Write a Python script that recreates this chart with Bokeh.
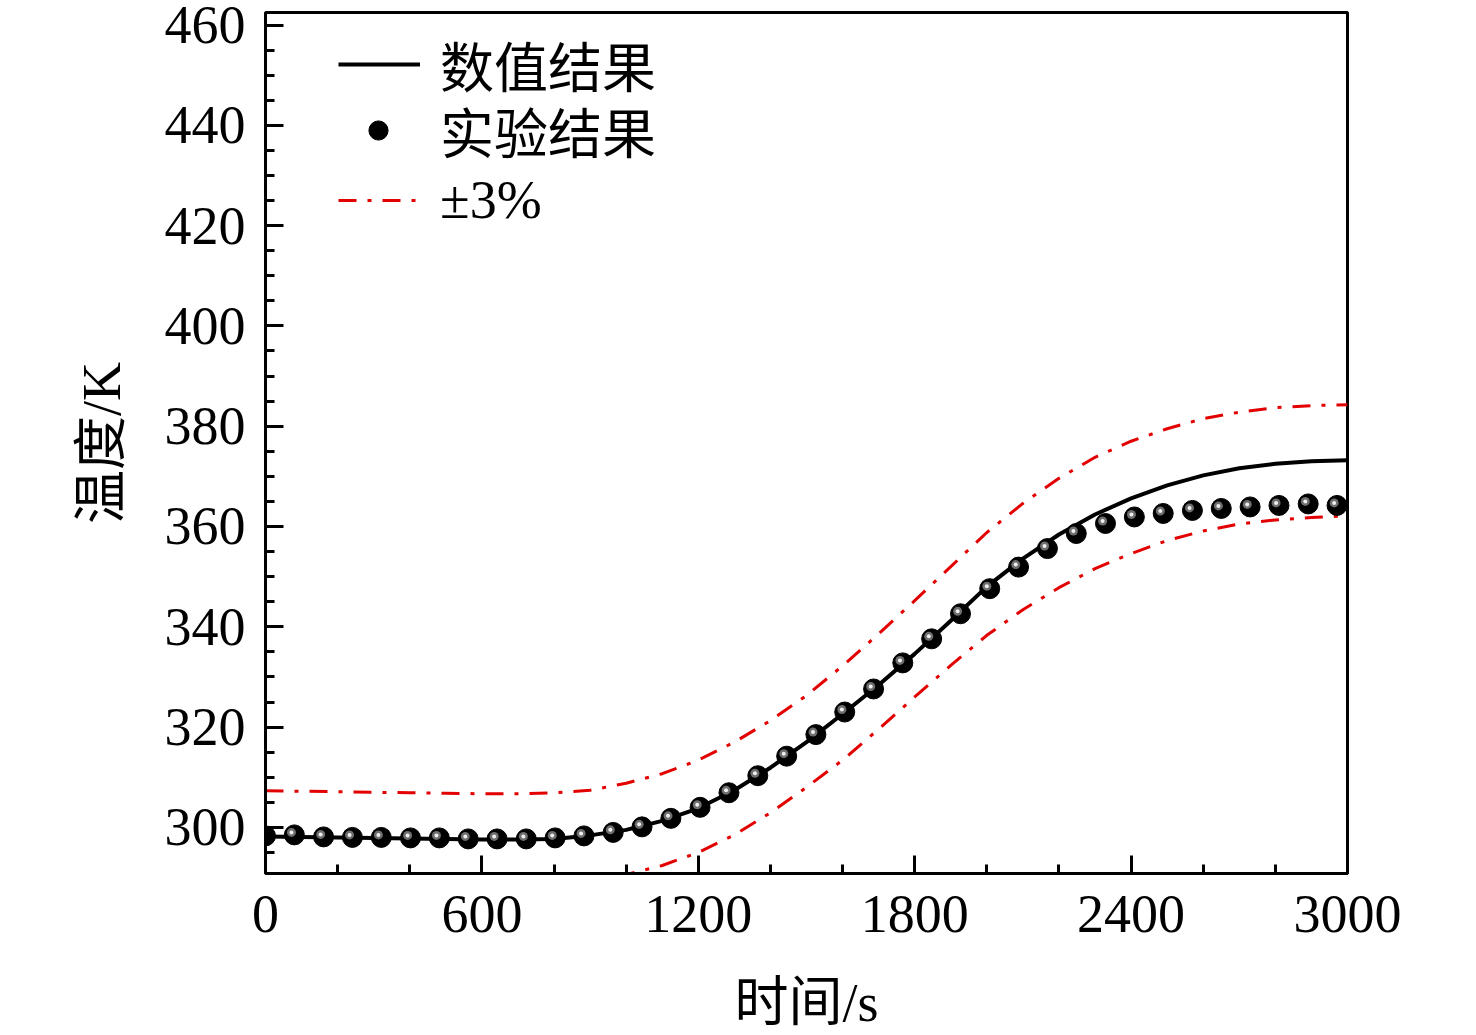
from bokeh.plotting import figure
from bokeh.models import Range1d, FixedTicker, Legend, LegendItem, ColumnDataSource
from bokeh.transform import dodge
from bokeh.embed import file_html
from bokeh.resources import INLINE

# ---------------- data ----------------
t_num = [0, 100, 200, 300, 400, 500, 600, 700, 800, 900, 1000,
         1100, 1200, 1300, 1400, 1500, 1600, 1700, 1800, 1900, 2000,
         2100, 2200, 2300, 2400, 2500, 2600, 2700, 2800, 2900, 3000]
T_num = [298.2, 298.1, 298.0, 297.9, 297.8, 297.7, 297.6, 297.6, 297.7, 298.4, 299.5,
         301.3, 303.8, 307.4, 311.9, 317.0, 322.6, 328.4, 334.6, 341.2, 348.0,
         353.6, 358.4, 362.4, 365.6, 368.2, 370.2, 371.6, 372.5, 373.0, 373.2]
T_upper = [307.3, 307.2, 307.1, 307.0, 306.9, 306.8, 306.7, 306.7, 306.9, 307.4, 308.8,
           310.7, 313.4, 317.0, 321.3, 326.3, 332.2, 338.6, 345.2, 352.0, 358.8,
           364.6, 369.6, 373.8, 377.0, 379.5, 381.5, 382.8, 383.7, 384.1, 384.3]
T_lower = [289.3, 289.2, 289.1, 289.0, 288.9, 288.8, 288.7, 288.7, 288.8, 289.4, 290.6,
           292.4, 295.0, 298.5, 302.9, 308.0, 313.4, 319.6, 326.0, 332.3, 338.3,
           343.4, 347.8, 351.6, 354.6, 357.2, 359.1, 360.5, 361.3, 361.8, 362.1]

t_exp = [0, 80, 161, 241, 321, 402, 482, 562, 642, 723, 803, 883, 964, 1044,
         1124, 1205, 1285, 1365, 1445, 1526, 1606, 1686, 1767, 1847, 1927,
         2008, 2088, 2168, 2248, 2329, 2409, 2489, 2570, 2650, 2730, 2810, 2891, 2971]
T_exp = [298.3, 298.5, 298.1, 298.0, 298.0, 297.9, 297.9, 297.7, 297.7, 297.7,
         297.9, 298.3, 299.0, 300.1, 301.8, 304.0, 306.9, 310.3, 314.2, 318.5,
         323.0, 327.6, 332.8, 337.6, 342.6, 347.6, 351.9, 355.6, 358.6, 360.6,
         361.9, 362.6, 363.2, 363.6, 363.9, 364.2, 364.5, 364.2]

x_ticks = [0, 600, 1200, 1800, 2400, 3000]
x_minor = [200, 400, 800, 1000, 1400, 1600, 2000, 2200, 2600, 2800]
y_ticks = [300, 320, 340, 360, 380, 400, 420, 440, 460]
y_minor = [295, 305, 310, 315, 325, 330, 335, 345, 350, 355, 365, 370, 375,
           385, 390, 395, 405, 410, 415, 425, 430, 435, 445, 450, 455]

labels = ["数值结果", "实验结果", "±3%"]
x_label = "时间/s"
y_label = "温度/K"

# ---------------- figure ----------------
FONT = "Liberation Serif, Noto Sans CJK SC"

p = figure(width=1460, height=1035, output_backend="svg", toolbar_location=None,
           title=None,
           x_range=Range1d(0, 3000), y_range=Range1d(290.8, 462.5),
           min_border_left=265, min_border_right=113,
           min_border_top=12, min_border_bottom=162)
p.xgrid.visible = False
p.ygrid.visible = False
p.outline_line_color = "black"
p.outline_line_width = 3
p.outline_line_alpha = 1.0
p.background_fill_color = "white"
p.border_fill_color = "white"

num_src = ColumnDataSource(dict(t=t_num, T=T_num, up=T_upper, lo=T_lower))
exp_src = ColumnDataSource(dict(t=t_exp, T=T_exp))

RED = "#e30000"
DASH = "18 11 4 11"
r_up = p.line("t", "up", source=num_src, line_color=RED, line_width=3, line_dash=DASH)
r_lo = p.line("t", "lo", source=num_src, line_color=RED, line_width=3, line_dash=DASH)
r_num = p.line("t", "T", source=num_src, line_color="black", line_width=4)

r_ball = p.scatter("t", "T", source=exp_src, marker="circle", size=20,
                   fill_color="black", line_color="black", line_width=1)
r_halo = p.scatter(dodge("t", -8), dodge("T", 0.5), source=exp_src,
                   marker="circle", size=9, fill_color="#7a7a7a",
                   line_color=None, fill_alpha=0.9)
r_hl = p.scatter(dodge("t", -8), dodge("T", 0.5), source=exp_src,
                 marker="circle", size=4, fill_color="#eeeeee", line_color=None)

# axes
for ax in (p.xaxis[0], p.yaxis[0]):
    ax.axis_line_width = 3
    ax.axis_line_color = "black"
    ax.major_tick_line_width = 3
    ax.minor_tick_line_width = 3
    ax.major_tick_in = 18
    ax.major_tick_out = 0
    ax.minor_tick_in = 9
    ax.minor_tick_out = 0
    ax.major_label_text_font = FONT
    ax.major_label_text_font_size = "54px"
    ax.major_label_text_color = "black"
    ax.axis_label_text_font = FONT
    ax.axis_label_text_font_size = "54px"
    ax.axis_label_text_font_style = "normal"
    ax.axis_label_text_color = "black"

p.xaxis[0].ticker = FixedTicker(ticks=x_ticks, minor_ticks=x_minor)
p.yaxis[0].ticker = FixedTicker(ticks=y_ticks, minor_ticks=y_minor)
p.xaxis[0].axis_label = x_label
p.yaxis[0].axis_label = y_label
p.xaxis[0].major_label_standoff = 22
p.yaxis[0].major_label_standoff = 20
p.xaxis[0].axis_label_standoff = 38
p.yaxis[0].axis_label_standoff = 30


def make_legend(item, loc, glyph_w, standoff):
    lg = Legend(items=[item], location=loc)
    lg.border_line_alpha = 0
    lg.background_fill_alpha = 0
    lg.padding = 0
    lg.margin = 0
    lg.spacing = 0
    lg.label_height = 90
    lg.glyph_height = 90
    lg.glyph_width = glyph_w
    lg.label_standoff = standoff
    lg.label_text_font = FONT
    lg.label_text_font_size = "54px"
    lg.label_text_color = "black"
    lg.label_text_baseline = "middle"
    return lg


p.add_layout(make_legend(LegendItem(label=labels[0], renderers=[r_num]),
                         (73, 764), 82, 20), "center")
p.add_layout(make_legend(LegendItem(label=labels[1], renderers=[r_ball]),
                         (89, 698), 48, 38), "center")
p.add_layout(make_legend(LegendItem(label=labels[2], renderers=[r_up]),
                         (73, 628), 82, 20), "center")

open("out.html", "w").write(file_html(p, INLINE))
